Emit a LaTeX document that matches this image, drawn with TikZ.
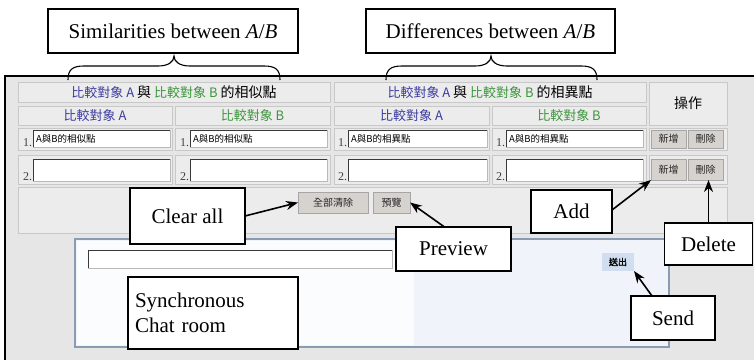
\documentclass[tikz,border=0pt]{standalone}
\usepackage{fontspec}
\setmainfont{Liberation Serif}
\newfontfamily\cjk[AutoFakeBold=2]{Noto Sans CJK TC}
\usetikzlibrary{arrows.meta}
\definecolor{cblue}{RGB}{60,60,160}
\definecolor{cgreen}{RGB}{60,150,60}
\definecolor{framebg}{RGB}{230,230,230}
\definecolor{cellbg}{RGB}{236,236,236}
\definecolor{cellline}{RGB}{200,200,200}
\definecolor{btnbg}{RGB}{214,211,206}
\definecolor{panelline}{RGB}{140,155,180}
\definecolor{panelbg}{RGB}{241,243,250}
\definecolor{panelwhite}{RGB}{251,252,254}
\definecolor{sendbg}{RGB}{208,222,240}
\newcommand\hdrline[1]{{\color{cblue}比較對象 A} {\fontsize{14}{14}\selectfont 與} {\color{cgreen}比較對象 B} {\fontsize{14}{14}\selectfont 的#1}}
\begin{document}
\begin{tikzpicture}[x=1pt,y=-1pt,
  every node/.style={inner sep=0pt, outer sep=0pt},
  cell/.style={draw=cellline, fill=cellbg, line width=0.8pt, anchor=north west},
  inbox/.style={draw=gray!55, fill=white, line width=0.8pt, anchor=north west},
  btn/.style={draw=gray!70, fill=btnbg, line width=0.8pt, anchor=north west, font=\cjk\fontsize{10}{10}\selectfont, text=gray!30!black},
  num/.style={anchor=south east, font=\fontsize{12}{12}\selectfont, text=gray!50!black, xshift=-1pt},
  intext/.style={anchor=west, font=\cjk\fontsize{9.5}{10}\selectfont, xshift=3pt},
  hdr/.style={font=\cjk\fontsize{13}{13}\selectfont},
  callout/.style={draw, line width=1.2pt, fill=white, font=\fontsize{21}{25}\selectfont},
  arr/.style={line width=1.6pt, -{Stealth[length=12pt,width=9pt]}},
  bracestyle/.style={line width=1.1pt},
]
\useasboundingbox (0,0) rectangle (754,359);
\clip (0,0) rectangle (754,359);
% outer frame
\fill[framebg] (5,76) rectangle (760,365);
\draw[line width=2pt] (5,365) -- (5,76) -- (760,76);
% header rows
\node[cell, hdr, minimum width=312pt, minimum height=20pt] (h1) at (18,82) {\hdrline{相似點}};
\node[cell, hdr, minimum width=312pt, minimum height=20pt] (h2) at (334,82) {\hdrline{相異點}};
\node[cell, minimum width=78pt, minimum height=43pt, font=\cjk\fontsize{14}{14}\selectfont] (op) at (649,82) {操作};
\node[cell, hdr, minimum width=154pt, minimum height=19pt, text=cblue] (s1) at (18,106) {比較對象 A};
\node[cell, hdr, minimum width=155pt, minimum height=19pt, text=cgreen] (s2) at (175,106) {比較對象 B};
\node[cell, hdr, minimum width=155pt, minimum height=19pt, text=cblue] (s3) at (334,106) {比較對象 A};
\node[cell, hdr, minimum width=154pt, minimum height=19pt, text=cgreen] (s4) at (492,106) {比較對象 B};
% input rows
\foreach \c/\cx/\cw/\ix/\iw/\t in {1/18/154/33/137/相似點, 2/175/155/190/137/相似點, 3/334/155/348/139/相異點, 4/492/154/506/137/相異點}{
  \node[cell, minimum width=\cw pt, minimum height=22pt] (rA\c) at (\cx,128) {};
  \node[inbox, minimum width=\iw pt, minimum height=17pt] (inA\c) at (\ix,130) {};
  \draw[gray!45!black, line width=0.8pt] (inA\c.south west) -- (inA\c.north west) -- (inA\c.north east);
  \node[num] (nA\c) at (inA\c.south west) {1.};
  \node[intext] (tA\c) at (inA\c.west) {A與B的\t};
  \node[cell, minimum width=\cw pt, minimum height=29pt] (rB\c) at (\cx,155) {};
  \node[inbox, minimum width=\iw pt, minimum height=22pt] (inB\c) at (\ix,159) {};
  \draw[gray!45!black, line width=0.8pt] (inB\c.south west) -- (inB\c.north west) -- (inB\c.north east);
  \node[num] (nB\c) at (inB\c.south west) {2.};
}
\node[cell, minimum width=78pt, minimum height=22pt] (opA) at (649,128) {};
\node[cell, minimum width=78pt, minimum height=29pt] (opB) at (649,155) {};
\node[btn, minimum width=35pt, minimum height=18pt] (add1) at (651,130) {新增};
\node[btn, minimum width=35pt, minimum height=18pt] (del1) at (688,130) {刪除};
\node[btn, minimum width=35pt, minimum height=21pt] (add2) at (651,159) {新增};
\node[btn, minimum width=35pt, minimum height=21pt] (del2) at (688,159) {刪除};
% button row
\node[cell, minimum width=709pt, minimum height=46pt] (r5) at (18,187) {};
\node[btn, minimum width=70pt, minimum height=21pt] (clr) at (298,192) {全部清除};
\node[btn, minimum width=37pt, minimum height=21pt] (prv) at (373,192) {預覽};
% chat panel
\node[draw=panelline, line width=1.5pt, fill=panelbg, anchor=north west, minimum width=594pt, minimum height=108pt] (panel) at (75,239) {};
\fill[panelwhite] (77,241) rectangle (414,345);
\node[inbox, minimum width=304pt, minimum height=18pt] (chatin) at (88,250) {};
\draw[gray!45!black, line width=0.8pt] (chatin.south west) -- (chatin.north west) -- (chatin.north east);
\node[fill=sendbg, anchor=north west, minimum width=32pt, minimum height=18pt, font=\cjk\bfseries\fontsize{9}{9}\selectfont] (send) at (602,253) {送出};
% braces
\draw[bracestyle] (68,80) .. controls (68,70) and (72,66) .. (84,66) -- (158,66) .. controls (168,66) and (174,62) .. (174,56) .. controls (174,62) and (180,66) .. (190,66) -- (264,66) .. controls (276,66) and (280,70) .. (280,80);
\draw[bracestyle] (386,80) .. controls (386,70) and (390,66) .. (402,66) -- (475,66) .. controls (485,66) and (491,62) .. (491,56) .. controls (491,62) and (497,66) .. (507,66) -- (581,66) .. controls (593,66) and (597,70) .. (597,80);
% callouts
\node[callout, minimum width=250pt, minimum height=44pt] (simlbl) at (173,31) {Similarities between \textit{A}/\textit{B}};
\node[callout, minimum width=249pt, minimum height=44pt] (diflbl) at (490.5,31) {Differences between \textit{A}/\textit{B}};
\node[callout, minimum width=115pt, minimum height=56pt] (clearlbl) at (187.5,216) {Clear all};
\node[callout, minimum width=115pt, minimum height=44pt] (prevlbl) at (453.5,249) {Preview};
\node[callout, minimum width=81pt, minimum height=43pt] (addlbl) at (571.5,211.5) {Add};
\node[callout, minimum width=88pt, minimum height=42pt] (dellbl) at (708.5,244) {Delete};
\node[callout, minimum width=84pt, minimum height=44pt] (sendlbl) at (673,318) {Send};
\node[callout, minimum width=170pt, minimum height=72pt, align=left, text width=156pt] (chatlbl) at (213,313) {Synchronous\\Chat room};
% arrows
\draw[arr] (clearlbl.east) -- (clr.west);
\draw[arr] ([xshift=-9pt]prevlbl.north) -- (prv.east);
\draw[arr] ([yshift=1.5pt]addlbl.east) -- (add2.south west);
\draw[arr] (dellbl.north) -- (dellbl.north |- del2.south);
\draw[arr] ([xshift=-21pt]sendlbl.north) -- (send.south east);
\end{tikzpicture}
\end{document}
